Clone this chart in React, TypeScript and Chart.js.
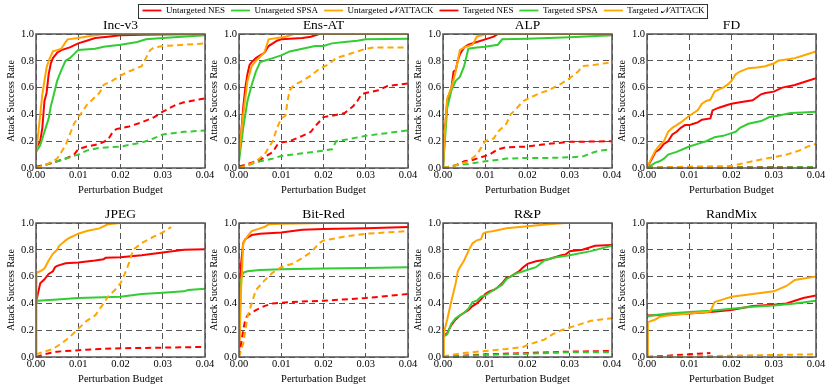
import React, { useEffect, useRef } from "react";
import { Chart, registerables } from "chart.js";
Chart.register(...registerables);

type P = [number, number][];

const SERIF = '"Liberation Serif", "Times New Roman", serif';

const seriesNames = [
  "Untargeted NES",
  "Untargeted SPSA",
  "Untargeted 𝒩ATTACK",
  "Targeted NES",
  "Targeted SPSA",
  "Targeted 𝒩ATTACK",
];
const seriesColors = ["#ff0000", "#33cc33", "#ffa500", "#ff0000", "#33cc33", "#ffa500"];
const seriesDashed = [false, false, false, true, true, true];
const panelTitles = ["Inc-v3", "Ens-AT", "ALP", "FD", "JPEG", "Bit-Red", "R&P", "RandMix"];
const xTicks = [0, 0.01, 0.02, 0.03, 0.04];
const yTicks = [0, 0.2, 0.4, 0.6, 0.8, 1.0];

// ---- Inc-v3 ----
const incUNES: P = [[0,0.15],[0.001,0.2],[0.0015,0.3],[0.002,0.5],[0.0025,0.56],[0.003,0.7],[0.0035,0.78],[0.004,0.82],[0.005,0.86],[0.006,0.88],[0.008,0.9],[0.01,0.93],[0.012,0.95],[0.014,0.97],[0.017,0.98],[0.02,0.99],[0.025,0.995],[0.04,1.0]];
const incUSPSA: P = [[0,0.12],[0.001,0.17],[0.0015,0.22],[0.002,0.27],[0.003,0.37],[0.0035,0.46],[0.004,0.52],[0.005,0.65],[0.006,0.73],[0.007,0.8],[0.008,0.82],[0.009,0.85],[0.01,0.88],[0.014,0.89],[0.016,0.905],[0.02,0.92],[0.024,0.94],[0.026,0.96],[0.03,0.97],[0.04,0.99]];
const incUNATT: P = [[0,0.1],[0.001,0.4],[0.0015,0.55],[0.0025,0.75],[0.003,0.8],[0.004,0.87],[0.005,0.88],[0.006,0.89],[0.007,0.94],[0.0075,0.96],[0.01,0.97],[0.014,0.99],[0.016,1.0],[0.04,1.0]];
const incTNES: P = [[0,0.01],[0.003,0.03],[0.005,0.05],[0.007,0.07],[0.009,0.1],[0.01,0.14],[0.012,0.16],[0.015,0.18],[0.017,0.21],[0.018,0.26],[0.019,0.29],[0.022,0.31],[0.025,0.34],[0.028,0.38],[0.03,0.42],[0.033,0.47],[0.035,0.49],[0.04,0.52]];
const incTSPSA: P = [[0,0],[0.002,0.02],[0.005,0.05],[0.008,0.08],[0.01,0.1],[0.012,0.13],[0.015,0.15],[0.02,0.16],[0.025,0.19],[0.027,0.21],[0.03,0.25],[0.035,0.27],[0.04,0.28]];
const incTNATT: P = [[0,0],[0.002,0.02],[0.004,0.05],[0.005,0.07],[0.006,0.12],[0.007,0.17],[0.008,0.25],[0.009,0.33],[0.01,0.38],[0.011,0.42],[0.012,0.47],[0.014,0.53],[0.015,0.56],[0.016,0.62],[0.018,0.65],[0.02,0.69],[0.022,0.72],[0.025,0.76],[0.026,0.82],[0.027,0.88],[0.028,0.9],[0.03,0.91],[0.035,0.92],[0.04,0.93]];

// ---- Ens-AT ----
const ensUNES: P = [[0,0.1],[0.0005,0.25],[0.001,0.45],[0.0015,0.6],[0.002,0.7],[0.0025,0.77],[0.003,0.79],[0.004,0.82],[0.005,0.84],[0.006,0.86],[0.007,0.91],[0.008,0.93],[0.009,0.95],[0.01,0.96],[0.015,0.97],[0.017,0.98],[0.019,1.0],[0.04,1.0]];
const ensUSPSA: P = [[0,0.05],[0.001,0.3],[0.0015,0.4],[0.002,0.5],[0.003,0.62],[0.004,0.72],[0.005,0.79],[0.006,0.8],[0.008,0.82],[0.01,0.84],[0.012,0.87],[0.015,0.89],[0.018,0.91],[0.02,0.91],[0.022,0.93],[0.025,0.94],[0.028,0.95],[0.03,0.96],[0.04,0.965]];
const ensUNATT: P = [[0,0.1],[0.0005,0.25],[0.001,0.4],[0.002,0.65],[0.003,0.76],[0.004,0.8],[0.005,0.83],[0.006,0.86],[0.0065,0.91],[0.007,0.96],[0.009,0.97],[0.011,0.98],[0.013,1.0],[0.04,1.0]];
const ensTNES: P = [[0,0.01],[0.003,0.04],[0.005,0.06],[0.007,0.1],[0.008,0.12],[0.009,0.17],[0.01,0.19],[0.012,0.2],[0.015,0.24],[0.017,0.27],[0.018,0.31],[0.02,0.38],[0.022,0.39],[0.025,0.41],[0.027,0.46],[0.028,0.5],[0.029,0.55],[0.03,0.56],[0.033,0.58],[0.035,0.61],[0.037,0.62],[0.04,0.63]];
const ensTSPSA: P = [[0,0],[0.002,0.02],[0.005,0.05],[0.008,0.07],[0.01,0.09],[0.015,0.11],[0.02,0.13],[0.022,0.14],[0.023,0.2],[0.025,0.21],[0.03,0.24],[0.035,0.26],[0.04,0.28]];
const ensTNATT: P = [[0,0],[0.002,0.02],[0.004,0.05],[0.006,0.1],[0.008,0.2],[0.009,0.3],[0.01,0.37],[0.011,0.39],[0.0115,0.5],[0.012,0.58],[0.013,0.62],[0.015,0.65],[0.017,0.69],[0.019,0.74],[0.021,0.77],[0.023,0.82],[0.025,0.84],[0.028,0.87],[0.03,0.89],[0.032,0.9],[0.04,0.9]];

// ---- ALP ----
const alpUNES: P = [[0,0],[0.0005,0.3],[0.001,0.5],[0.002,0.6],[0.0025,0.72],[0.003,0.73],[0.0035,0.8],[0.004,0.85],[0.005,0.9],[0.006,0.92],[0.008,0.94],[0.01,0.96],[0.012,0.98],[0.013,1.0],[0.04,1.0]];
const alpUSPSA: P = [[0,0],[0.001,0.45],[0.002,0.58],[0.003,0.65],[0.004,0.68],[0.005,0.76],[0.006,0.89],[0.008,0.9],[0.01,0.905],[0.013,0.92],[0.014,0.96],[0.02,0.965],[0.03,0.975],[0.04,0.99]];
const alpUNATT: P = [[0,0],[0.0005,0.3],[0.001,0.52],[0.002,0.6],[0.003,0.72],[0.0035,0.8],[0.004,0.88],[0.005,0.9],[0.007,0.92],[0.0075,0.95],[0.008,0.98],[0.01,1.0],[0.04,1.0]];
const alpTNES: P = [[0,0],[0.003,0.02],[0.005,0.05],[0.007,0.06],[0.009,0.08],[0.011,0.1],[0.013,0.14],[0.015,0.155],[0.02,0.16],[0.025,0.18],[0.03,0.195],[0.04,0.2]];
const alpTSPSA: P = [[0,0],[0.003,0.02],[0.006,0.03],[0.01,0.05],[0.015,0.07],[0.02,0.075],[0.025,0.075],[0.03,0.08],[0.033,0.085],[0.035,0.11],[0.037,0.13],[0.04,0.14]];
const alpTNATT: P = [[0,0],[0.003,0.02],[0.006,0.05],[0.008,0.1],[0.009,0.15],[0.01,0.2],[0.012,0.22],[0.013,0.27],[0.015,0.33],[0.016,0.4],[0.017,0.43],[0.019,0.5],[0.021,0.53],[0.023,0.56],[0.025,0.58],[0.028,0.63],[0.03,0.67],[0.032,0.72],[0.033,0.76],[0.036,0.77],[0.04,0.79]];

// ---- FD ----
const fdUNES: P = [[0,0],[0.001,0.06],[0.002,0.12],[0.003,0.14],[0.004,0.18],[0.005,0.2],[0.006,0.25],[0.007,0.27],[0.008,0.3],[0.009,0.32],[0.01,0.32],[0.011,0.33],[0.012,0.34],[0.013,0.36],[0.015,0.37],[0.0155,0.43],[0.017,0.45],[0.019,0.47],[0.02,0.48],[0.022,0.49],[0.025,0.505],[0.027,0.55],[0.028,0.56],[0.03,0.57],[0.032,0.6],[0.035,0.62],[0.037,0.64],[0.04,0.67]];
const fdUSPSA: P = [[0,0],[0.002,0.04],[0.003,0.05],[0.004,0.07],[0.005,0.1],[0.007,0.12],[0.01,0.16],[0.012,0.18],[0.014,0.2],[0.016,0.23],[0.018,0.24],[0.02,0.26],[0.021,0.27],[0.022,0.3],[0.024,0.33],[0.027,0.35],[0.029,0.38],[0.031,0.39],[0.034,0.41],[0.037,0.415],[0.04,0.42]];
const fdUNATT: P = [[0,0],[0.001,0.07],[0.002,0.13],[0.003,0.17],[0.004,0.2],[0.005,0.27],[0.006,0.3],[0.007,0.32],[0.008,0.34],[0.01,0.39],[0.012,0.43],[0.013,0.48],[0.014,0.5],[0.015,0.51],[0.016,0.57],[0.018,0.6],[0.019,0.62],[0.02,0.65],[0.021,0.7],[0.022,0.72],[0.024,0.745],[0.026,0.75],[0.028,0.76],[0.029,0.77],[0.03,0.78],[0.031,0.8],[0.033,0.81],[0.035,0.82],[0.037,0.84],[0.04,0.87]];
const fdTNES: P = [[0,0.004],[0.02,0.005],[0.04,0.005]];
const fdTSPSA: P = [[0,0.003],[0.02,0.004],[0.04,0.005]];
const fdTNATT: P = [[0,0],[0.01,0.01],[0.02,0.015],[0.022,0.03],[0.025,0.05],[0.028,0.07],[0.03,0.08],[0.033,0.1],[0.036,0.13],[0.038,0.16],[0.04,0.18]];

// ---- JPEG ----
const jpgUNES: P = [[0,0.4],[0.0005,0.48],[0.001,0.55],[0.002,0.58],[0.003,0.62],[0.004,0.64],[0.0045,0.67],[0.005,0.68],[0.007,0.7],[0.01,0.705],[0.014,0.72],[0.016,0.73],[0.0165,0.74],[0.02,0.745],[0.025,0.76],[0.03,0.78],[0.035,0.8],[0.04,0.805]];
const jpgUSPSA: P = [[0,0.4],[0.0005,0.42],[0.005,0.43],[0.01,0.44],[0.02,0.45],[0.025,0.47],[0.03,0.48],[0.035,0.49],[0.036,0.5],[0.04,0.51]];
const jpgUNATT: P = [[0,0],[0.0001,0.63],[0.001,0.64],[0.002,0.66],[0.003,0.72],[0.004,0.77],[0.005,0.8],[0.0055,0.83],[0.007,0.87],[0.008,0.89],[0.01,0.92],[0.012,0.94],[0.015,0.96],[0.017,0.99],[0.02,1.0],[0.04,1.0]];
const jpgTNES: P = [[0,0],[0.002,0.02],[0.005,0.04],[0.01,0.05],[0.015,0.06],[0.02,0.065],[0.03,0.07],[0.04,0.075]];
const jpgTSPSA: P = [];
const jpgTNATT: P = [[0,0.02],[0.004,0.06],[0.006,0.1],[0.008,0.15],[0.01,0.21],[0.012,0.27],[0.014,0.31],[0.016,0.4],[0.017,0.45],[0.019,0.51],[0.02,0.55],[0.021,0.62],[0.022,0.7],[0.023,0.8],[0.025,0.85],[0.028,0.9],[0.03,0.93],[0.032,0.97]];

// ---- Bit-Red ----
const bitUNES: P = [[0,0],[0.0003,0.5],[0.0005,0.7],[0.001,0.85],[0.0015,0.88],[0.002,0.89],[0.003,0.91],[0.005,0.92],[0.01,0.93],[0.015,0.95],[0.02,0.955],[0.03,0.96],[0.04,0.97]];
const bitUSPSA: P = [[0,0.2],[0.0005,0.58],[0.001,0.63],[0.002,0.64],[0.005,0.65],[0.01,0.655],[0.02,0.66],[0.03,0.665],[0.04,0.67]];
const bitUNATT: P = [[0,0],[0.0005,0.5],[0.001,0.85],[0.002,0.9],[0.003,0.94],[0.005,0.96],[0.006,0.97],[0.007,0.99],[0.01,0.995],[0.02,1.0],[0.04,1.0]];
const bitTNES: P = [[0,0],[0.001,0.2],[0.0015,0.28],[0.002,0.31],[0.004,0.35],[0.006,0.38],[0.008,0.4],[0.012,0.41],[0.02,0.42],[0.03,0.44],[0.04,0.47]];
const bitTSPSA: P = [];
const bitTNATT: P = [[0,0],[0.0005,0.05],[0.001,0.1],[0.0015,0.2],[0.002,0.3],[0.003,0.4],[0.004,0.5],[0.006,0.57],[0.008,0.63],[0.01,0.67],[0.013,0.7],[0.015,0.74],[0.017,0.78],[0.019,0.85],[0.02,0.87],[0.022,0.88],[0.025,0.9],[0.03,0.92],[0.035,0.93],[0.04,0.94]];

// ---- R&P ----
const rpUNES: P = [[0,0.15],[0.001,0.18],[0.002,0.24],[0.003,0.28],[0.004,0.31],[0.005,0.33],[0.006,0.35],[0.007,0.38],[0.008,0.4],[0.009,0.43],[0.01,0.47],[0.011,0.49],[0.012,0.5],[0.013,0.52],[0.014,0.55],[0.015,0.59],[0.016,0.6],[0.017,0.62],[0.018,0.64],[0.019,0.67],[0.02,0.695],[0.022,0.715],[0.025,0.73],[0.028,0.76],[0.029,0.765],[0.03,0.79],[0.033,0.8],[0.036,0.83],[0.04,0.835]];
const rpUSPSA: P = [[0,0.15],[0.001,0.17],[0.002,0.25],[0.003,0.29],[0.004,0.31],[0.005,0.33],[0.006,0.36],[0.007,0.41],[0.008,0.42],[0.009,0.45],[0.01,0.46],[0.012,0.5],[0.014,0.54],[0.015,0.58],[0.017,0.62],[0.019,0.64],[0.02,0.65],[0.021,0.66],[0.022,0.67],[0.024,0.72],[0.026,0.74],[0.03,0.76],[0.035,0.79],[0.04,0.83]];
const rpUNATT: P = [[0,0],[0.0002,0.18],[0.001,0.28],[0.002,0.42],[0.003,0.55],[0.0035,0.64],[0.004,0.67],[0.005,0.72],[0.006,0.79],[0.007,0.85],[0.008,0.87],[0.009,0.88],[0.0095,0.92],[0.01,0.93],[0.012,0.94],[0.015,0.96],[0.02,0.975],[0.025,0.99],[0.029,1.0],[0.04,1.0]];
const rpTNES: P = [[0,0],[0.01,0.02],[0.02,0.03],[0.03,0.04],[0.04,0.045]];
const rpTSPSA: P = [[0,0],[0.01,0.015],[0.02,0.025],[0.03,0.035],[0.04,0.035]];
const rpTNATT: P = [[0,0.005],[0.003,0.02],[0.005,0.03],[0.01,0.045],[0.015,0.06],[0.019,0.075],[0.02,0.09],[0.022,0.11],[0.024,0.13],[0.025,0.15],[0.026,0.17],[0.028,0.2],[0.03,0.22],[0.032,0.24],[0.035,0.27],[0.04,0.29]];

// ---- RandMix ----
const rmUNES: P = [[0,0.31],[0.005,0.315],[0.01,0.325],[0.015,0.335],[0.02,0.35],[0.025,0.38],[0.03,0.39],[0.033,0.4],[0.035,0.42],[0.037,0.44],[0.04,0.46]];
const rmUSPSA: P = [[0,0.3],[0.001,0.31],[0.005,0.325],[0.01,0.335],[0.015,0.345],[0.02,0.36],[0.025,0.375],[0.03,0.385],[0.035,0.4],[0.04,0.42]];
const rmUNATT: P = [[0,0],[0.0002,0.26],[0.002,0.28],[0.003,0.3],[0.005,0.31],[0.01,0.325],[0.015,0.34],[0.016,0.41],[0.018,0.43],[0.02,0.45],[0.025,0.47],[0.03,0.49],[0.033,0.53],[0.035,0.575],[0.04,0.6]];
const rmTNES: P = [[0,0],[0.005,0.01],[0.01,0.02],[0.015,0.03]];
const rmTSPSA: P = [];
const rmTNATT: P = [[0,0],[0.01,0.005],[0.02,0.01],[0.03,0.015],[0.04,0.02]];

const panelData: P[][] = [
  [incUNES, incUSPSA, incUNATT, incTNES, incTSPSA, incTNATT],
  [ensUNES, ensUSPSA, ensUNATT, ensTNES, ensTSPSA, ensTNATT],
  [alpUNES, alpUSPSA, alpUNATT, alpTNES, alpTSPSA, alpTNATT],
  [fdUNES, fdUSPSA, fdUNATT, fdTNES, fdTSPSA, fdTNATT],
  [jpgUNES, jpgUSPSA, jpgUNATT, jpgTNES, jpgTSPSA, jpgTNATT],
  [bitUNES, bitUSPSA, bitUNATT, bitTNES, bitTSPSA, bitTNATT],
  [rpUNES, rpUSPSA, rpUNATT, rpTNES, rpTSPSA, rpTNATT],
  [rmUNES, rmUSPSA, rmUNATT, rmTNES, rmTSPSA, rmTNATT],
];

const COL_L = [36, 239, 443, 647];
const ROW_T = [34, 223];
const PLOT_W = 169;
const PLOT_H = 134;
const AX_L = 36;
const PAD_R = 14;
const TOP_H = 22;
const AX_B = 30;
const CW = AX_L + PLOT_W + PAD_R;
const CH = TOP_H + PLOT_H + AX_B;

const framePlugin = {
  id: "frame",
  afterDraw(chart: any) {
    const { ctx, chartArea: a } = chart;
    ctx.save();
    ctx.strokeStyle = "#555";
    ctx.lineWidth = 1.5;
    ctx.strokeRect(a.left, a.top, a.right - a.left, a.bottom - a.top);
    ctx.restore();
  },
};

const legendBoxPlugin = {
  id: "legendBox",
  afterDraw(chart: any) {
    const lg = chart.legend;
    if (!lg || !lg.legendHitBoxes || !lg.legendHitBoxes.length) return;
    const hb = lg.legendHitBoxes;
    let l = Infinity, r = -Infinity, t = Infinity, b = -Infinity;
    hb.forEach((h: any) => {
      l = Math.min(l, h.left);
      r = Math.max(r, h.left + h.width);
      t = Math.min(t, h.top);
      b = Math.max(b, h.top + h.height);
    });
    const cy = (t + b) / 2;
    const ctx = chart.ctx;
    ctx.save();
    ctx.strokeStyle = "#333";
    ctx.lineWidth = 1;
    ctx.strokeRect(Math.round(l - 4) + 0.5, Math.round(cy - 7) + 0.5, Math.round(r - l + 7), 14);
    ctx.restore();
  },
};

function Panel({ idx }: { idx: number }) {
  const ref = useRef<HTMLCanvasElement>(null);
  useEffect(() => {
    const tickFont = { family: SERIF, size: 10.5 };
    const chart = new Chart(ref.current as HTMLCanvasElement, {
      type: "line",
      data: {
        datasets: panelData[idx].map((pts, i) => ({
          label: seriesNames[i],
          data: pts.map(([x, y]) => ({ x, y })),
          borderColor: seriesColors[i],
          backgroundColor: seriesColors[i],
          borderWidth: 2,
          borderDash: seriesDashed[i] ? [6, 4] : [],
          pointRadius: 0,
          tension: 0,
          fill: false,
          order: 6 - i,
        })),
      },
      options: {
        animation: false,
        responsive: false,
        devicePixelRatio: 1,
        events: [],
        layout: { padding: { left: 0, right: PAD_R, top: 0, bottom: 0 } },
        plugins: {
          legend: { display: false },
          tooltip: { enabled: false },
          title: {
            display: true,
            text: panelTitles[idx],
            fullSize: false,
            color: "#000",
            font: { family: SERIF, size: 13.5, weight: "normal", lineHeight: 1 },
            padding: { top: 7, bottom: 1.5 },
          },
        },
        scales: {
          x: {
            type: "linear",
            min: 0,
            max: 0.04,
            afterBuildTicks: (s: any) => {
              s.ticks = xTicks.map((v) => ({ value: v }));
            },
            afterFit: (s: any) => {
              s.height = AX_B;
            },
            ticks: {
              callback: (v: any) => Number(v).toFixed(2),
              font: tickFont,
              color: "#000",
              padding: 1,
              maxRotation: 0,
              autoSkip: false,
            },
            grid: { color: "#555", lineWidth: 1, drawTicks: false },
            border: { display: false, dash: [6, 4] },
            title: {
              display: true,
              text: "Perturbation Budget",
              color: "#000",
              font: { family: SERIF, size: 10.5 },
              padding: { top: 0, bottom: 1 },
            },
          },
          y: {
            type: "linear",
            min: 0,
            max: 1,
            afterBuildTicks: (s: any) => {
              s.ticks = yTicks.map((v) => ({ value: v }));
            },
            afterFit: (s: any) => {
              s.width = AX_L;
            },
            ticks: {
              callback: (v: any) => Number(v).toFixed(1),
              font: tickFont,
              color: "#000",
              padding: 2,
              autoSkip: false,
            },
            grid: { color: "#555", lineWidth: 1, drawTicks: false },
            border: { display: false, dash: [6, 4] },
            title: {
              display: true,
              text: "Attack Success Rate",
              color: "#000",
              font: { family: SERIF, size: 10 },
              padding: { top: 5, bottom: 0 },
            },
          },
        },
      } as any,
      plugins: [framePlugin],
    });
    return () => chart.destroy();
  }, [idx]);
  const col = idx % 4;
  const row = Math.floor(idx / 4);
  return (
    <canvas
      ref={ref}
      width={CW}
      height={CH}
      style={{
        position: "absolute",
        left: COL_L[col] - AX_L,
        top: ROW_T[row] - TOP_H,
        width: CW,
        height: CH,
      }}
    />
  );
}

function Legend() {
  const ref = useRef<HTMLCanvasElement>(null);
  useEffect(() => {
    const chart = new Chart(ref.current as HTMLCanvasElement, {
      type: "line",
      data: {
        datasets: seriesNames.map((n, i) => ({
          label: n,
          data: [],
          borderColor: seriesColors[i],
          backgroundColor: seriesColors[i],
          borderWidth: 1.8,
          borderDash: seriesDashed[i] ? [6, 4] : [],
        })),
      },
      options: {
        animation: false,
        responsive: false,
        devicePixelRatio: 1,
        events: [],
        layout: { padding: 0 },
        scales: { x: { display: false }, y: { display: false } },
        plugins: {
          tooltip: { enabled: false },
          legend: {
            display: true,
            position: "top",
            labels: {
              usePointStyle: true,
              pointStyle: "line",
              pointStyleWidth: 19,
              boxHeight: 9,
              color: "#000",
              font: { family: SERIF, size: 9 },
              padding: 6,
            },
          },
        },
      } as any,
      plugins: [legendBoxPlugin],
    });
    return () => chart.destroy();
  }, []);
  return (
    <canvas
      ref={ref}
      width={815}
      height={70}
      style={{ position: "absolute", left: 16, top: 0, width: 815, height: 70 }}
    />
  );
}

export default function App() {
  return (
    <div
      style={{
        position: "absolute",
        left: 0,
        top: 0,
        width: 831,
        height: 390,
        background: "#fff",
        overflow: "hidden",
      }}
    >
      <Legend />
      {panelTitles.map((_, i) => (
        <Panel key={i} idx={i} />
      ))}
    </div>
  );
}
